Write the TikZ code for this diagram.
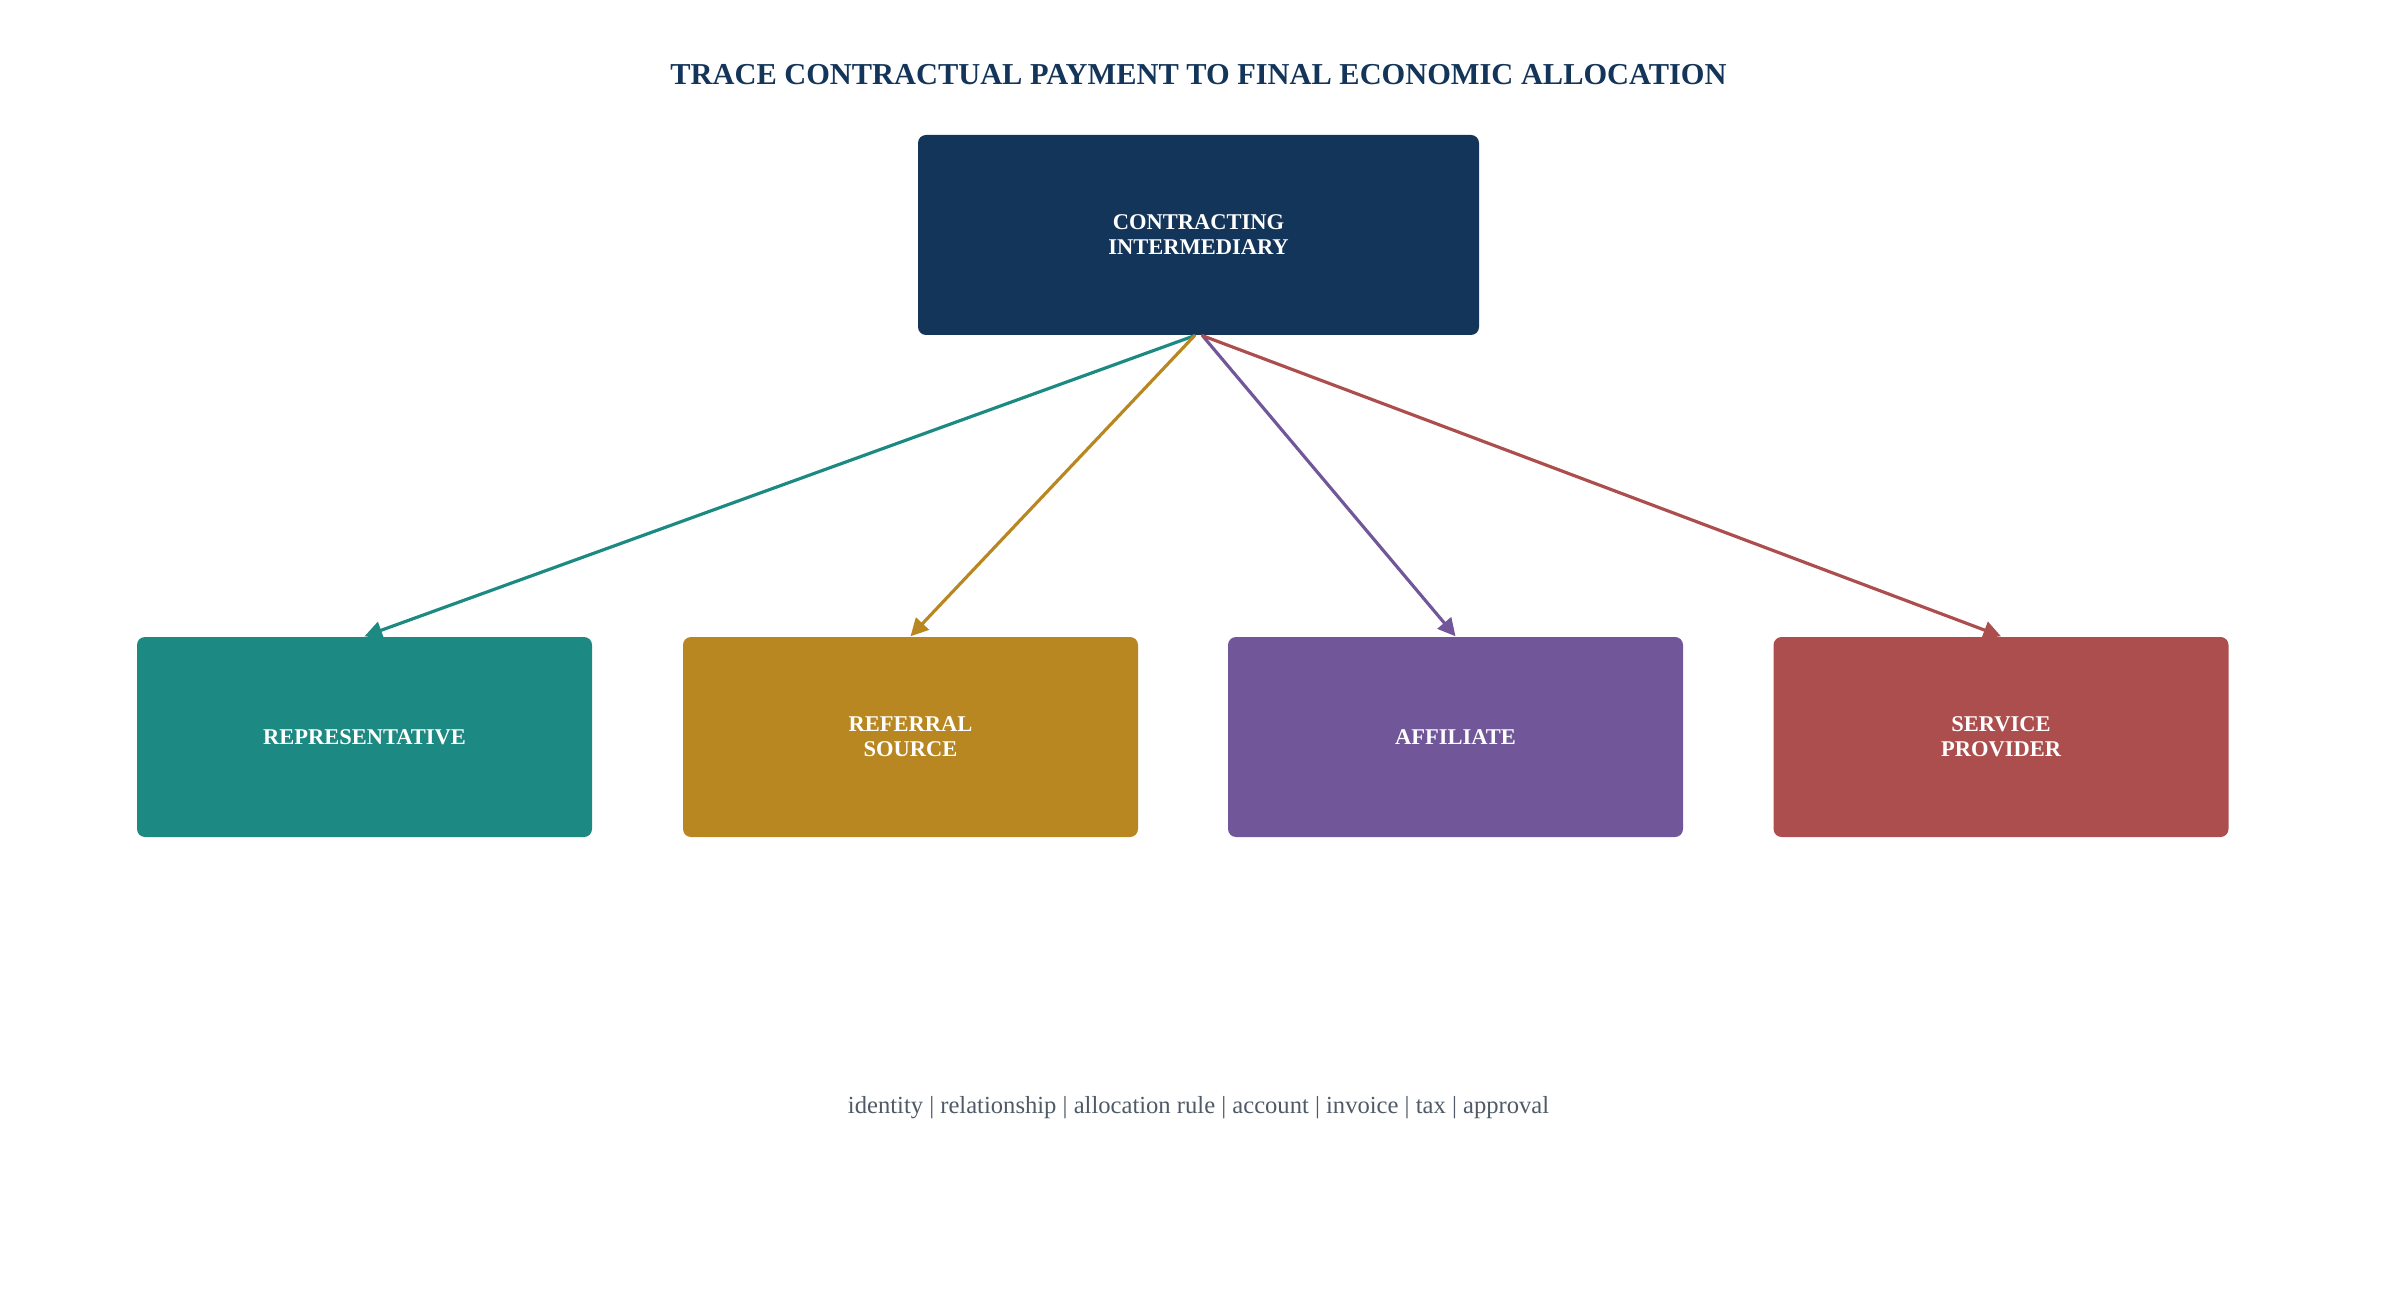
\documentclass[tikz,border=0pt]{standalone}
\usepackage{fontspec}
\setmainfont{Liberation Serif}
\usetikzlibrary{arrows.meta}
\definecolor{navy}{HTML}{14355A}
\definecolor{repteal}{HTML}{1C8A82}
\definecolor{refgold}{HTML}{B88721}
\definecolor{affpurple}{HTML}{715799}
\definecolor{provred}{HTML}{AD4E4E}
\definecolor{notegray}{HTML}{4F5A66}
\begin{document}
\begin{tikzpicture}[line join=round, line cap=round, >={Triangle[length=5pt, width=5pt]},
	box/.style={rounded corners=0.08cm, minimum width=4.55cm, minimum height=2cm, text=white, align=center, font=\fontsize{6.4}{7.1}\selectfont\bfseries},
	link/.style={->, line width=0.9pt}]
	\useasboundingbox (0,0) rectangle (23.97,-12.97);
	\node[text=navy, font=\fontsize{8.65}{10}\selectfont\bfseries] (title) at (11.985,-0.75) {TRACE CONTRACTUAL PAYMENT TO FINAL ECONOMIC ALLOCATION};
	\node[box, fill=navy, minimum width=5.61cm] (ci) at (11.985,-2.35) {CONTRACTING\\INTERMEDIARY};
	\node[box, fill=repteal] (rep) at (3.645,-7.37) {REPRESENTATIVE};
	\node[box, fill=refgold] (ref) at (9.105,-7.37) {REFERRAL\\SOURCE};
	\node[box, fill=affpurple] (aff) at (14.555,-7.37) {AFFILIATE};
	\node[box, fill=provred] (prov) at (20.01,-7.37) {SERVICE\\PROVIDER};
	\draw[link, repteal] ([xshift=-0.04cm]ci.south) -- (rep.north);
	\draw[link, refgold] ([xshift=-0.04cm]ci.south) -- (ref.north);
	\draw[link, affpurple] ([xshift=0.04cm]ci.south) -- (aff.north);
	\draw[link, provred] ([xshift=0.04cm]ci.south) -- (prov.north);
	\node[text=notegray, font=\fontsize{7}{8.5}\selectfont] (notes) at (11.985,-11.08) {identity | relationship | allocation rule | account | invoice | tax | approval};
\end{tikzpicture}
\end{document}
